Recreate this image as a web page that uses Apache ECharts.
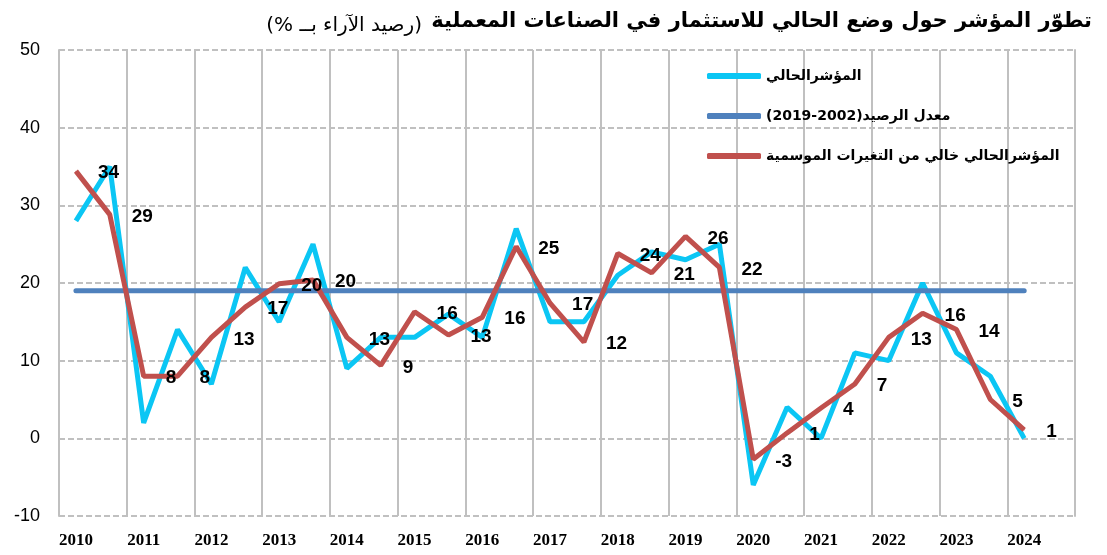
<!DOCTYPE html>
<html>

<head>
  <meta charset="utf-8">
  <title>Investment indicator</title>
  <script src="https://cdn.jsdelivr.net/npm/echarts@6/dist/echarts.min.js"></script>
  <style>
    html, body { margin: 0; padding: 0; background: #fff; }
  </style>
</head>

<body>
  <div id="main" style="width: 1107px;height:555px;"></div>
  <script type="text/javascript">
    var years = [2010, 2011, 2012, 2013, 2014, 2015, 2016, 2017, 2018, 2019, 2020, 2021, 2022, 2023, 2024];

    // two points a year
    var current = [28, 35, 2, 14, 7, 22, 15, 25, 9, 13, 13, 16, 13, 27, 15, 15, 21, 24, 23, 25, -6, 4, 0, 11, 10, 20, 11, 8, 0];
    var adjusted = [34.4, 28.8, 8, 8, 13, 16.9, 19.9, 20.4, 13, 9.4, 16.3, 13.3, 15.6, 24.7, 17.4, 12.4, 23.8, 21.3, 26, 22, -2.7, 0.7, 3.9, 7, 13, 16.1, 14, 5, 1.1];
    var average = [19, 19, 19, 19, 19, 19, 19, 19, 19, 19, 19, 19, 19, 19, 19, 19, 19, 19, 19, 19, 19, 19, 19, 19, 19, 19, 19, 19, 19];

    var names = ['المؤشرالحالي', 'معدل الرصيد(2002-2019)', 'المؤشرالحالي خالي من التغيرات الموسمية'];
    var titleMain = 'تطوّر المؤشر حول وضع الحالي للاستثمار في الصناعات المعملية';
    var titleSub = '(رصيد الآراء بــ %)';

    var categories = [];
    years.forEach(function (y) {
      categories.push(y + '-1');
      categories.push(y + '-2');
    });

    function rtl(s) {
      return '\u2067' + s + '\u2069';
    }

    var gridColor = '#C0C0C0';

    var myChart = echarts.init(document.getElementById('main'));

    var option = {
      animation: false,
      title: [
        {
          text: rtl(titleMain),
          right: 10,
          top: 6,
          textStyle: { fontFamily: 'DejaVu Sans', fontWeight: 'bold', fontSize: 21, color: '#000' }
        },
        {
          text: rtl(titleSub),
          right: 680,
          top: 11,
          textStyle: { fontFamily: 'DejaVu Sans', fontWeight: 'normal', fontSize: 20, color: '#000' }
        }
      ],
      legend: {
        orient: 'vertical',
        left: 702,
        top: 64,
        itemGap: 26,
        itemWidth: 54,
        itemHeight: 6,
        icon: 'roundRect',
        formatter: function (name) { return rtl(name); },
        textStyle: { fontFamily: 'DejaVu Sans', fontWeight: 'bold', fontSize: 14, color: '#000' },
        data: names
      },
      grid: { left: 59, right: 32, top: 50, bottom: 39 },
      xAxis: {
        type: 'category',
        data: categories,
        boundaryGap: true,
        axisLine: { show: false },
        axisTick: { show: false },
        axisLabel: {
          interval: 0,
          margin: 16,
          fontFamily: 'Liberation Serif',
          fontWeight: 'bold',
          fontSize: 17,
          color: '#000',
          formatter: function (v) { return v.slice(-2) === '-1' ? v.slice(0, 4) : ''; }
        },
        splitLine: {
          show: true,
          interval: function (idx) { return idx % 2 === 0; },
          lineStyle: { color: gridColor, width: 2 }
        }
      },
      yAxis: [
        {
          type: 'value',
          min: -10,
          max: 50,
          interval: 10,
          axisLine: { show: true, lineStyle: { color: gridColor, width: 2 } },
          axisTick: { show: false },
          axisLabel: { margin: 19, fontFamily: 'Liberation Sans', fontSize: 18, color: '#000' },
          splitLine: { lineStyle: { color: gridColor, width: 2, type: [6, 3] } }
        },
        {
          type: 'value',
          min: -10,
          max: 50,
          interval: 10,
          position: 'right',
          axisLine: { show: true, lineStyle: { color: gridColor, width: 2 } },
          axisTick: { show: false },
          axisLabel: { show: false },
          splitLine: { show: false }
        }
      ],
      series: [
        {
          name: names[0],
          type: 'line',
          data: current,
          symbol: 'none',
          itemStyle: { color: '#0BC6F4' },
          lineStyle: { color: '#0BC6F4', width: 5 }
        },
        {
          name: names[1],
          type: 'line',
          data: average,
          symbol: 'none',
          itemStyle: { color: '#4F81BD' },
          lineStyle: { color: '#4F81BD', width: 5, cap: 'round' }
        },
        {
          name: names[2],
          type: 'line',
          data: adjusted,
          symbol: 'circle',
          symbolSize: 1,
          showSymbol: true,
          showAllSymbol: true,
          itemStyle: { color: '#C0504D' },
          lineStyle: { color: '#C0504D', width: 5 },
          label: {
            show: true,
            position: 'inside',
            align: 'left',
            offset: [22, 2],
            fontFamily: 'Liberation Sans',
            fontWeight: 'bold',
            fontSize: 19,
            color: '#000',
            formatter: function (p) { return Math.round(p.value); }
          }
        }
      ]
    };

    myChart.setOption(option);
  </script>
</body>

</html>
